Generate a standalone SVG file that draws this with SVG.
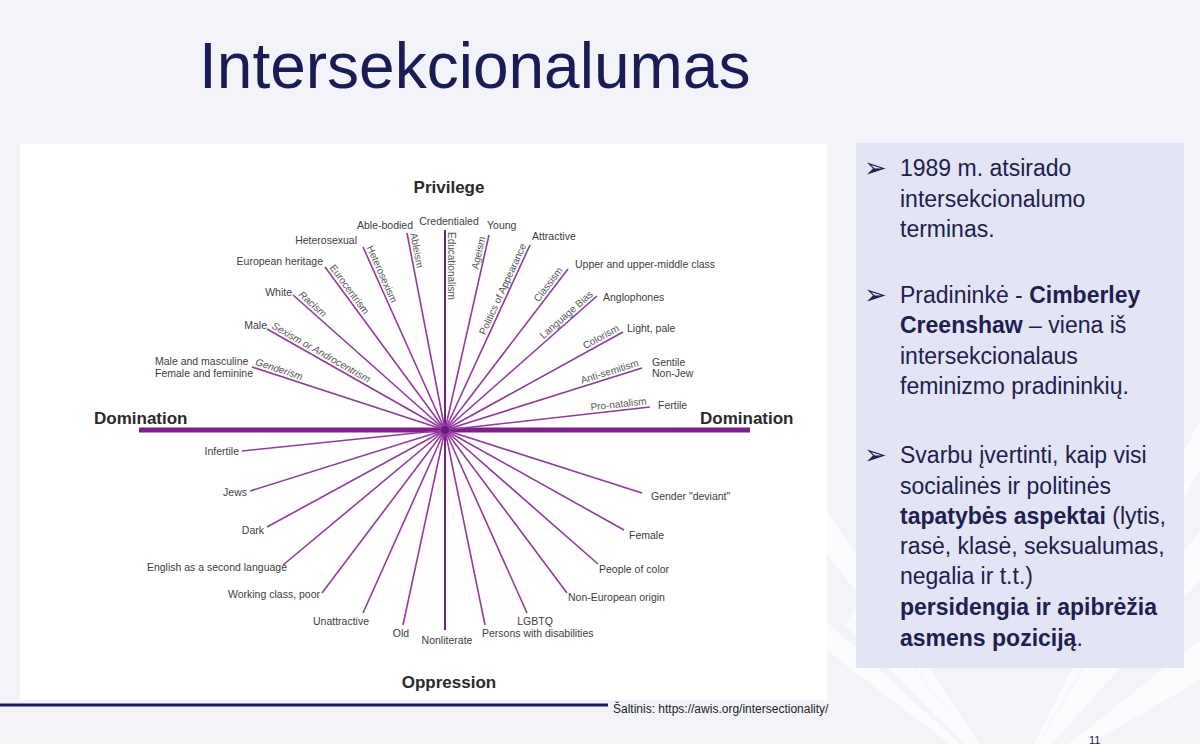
<svg xmlns="http://www.w3.org/2000/svg" width="1200" height="744" viewBox="0 0 1200 744">
  <defs>
    <style>
      .lbl { font-family: "Liberation Sans", Arial, sans-serif; font-size: 10.5px; fill: #3d3d3d; }
      .sp { font-family: "Liberation Sans", Arial, sans-serif; font-size: 10px; fill: #555; }
      .it { font-style: italic; }
      .hd { font-family: "Liberation Sans", Arial, sans-serif; font-size: 17px; font-weight: bold; fill: #2a2a2a; }
      .spoke { stroke: #93399f; stroke-width: 1.6; fill: none; }
      .pt { font-family: "Liberation Sans", Arial, sans-serif; font-size: 23px; fill: #1d2050; }
      .b { font-weight: bold; }
      .bul { font-family: "DejaVu Sans", sans-serif; font-size: 27px; fill: #1d2050; }
      .ray { fill: #ffffff; opacity: 0.6; }
    </style>
  </defs>

  <!-- background -->
  <rect x="0" y="0" width="1200" height="744" fill="#f3f4fa"/>
  <g id="rays">
    <polygon class="ray" points="1010,790 760,560 760,600"/>
    <polygon class="ray" points="1010,790 800,470 785,500"/>
    <polygon class="ray" points="1010,790 1200,420 1200,470"/>
    <polygon class="ray" points="1010,790 1200,530 1200,580"/>
    <polygon class="ray" points="1010,790 1200,640 1200,680"/>
    <polygon class="ray" points="1010,790 860,600 845,625"/>
    <polygon class="ray" points="1010,790 1150,560 1170,575"/>
  </g>

  <!-- title -->
  <text id="title" x="199" y="88" font-family="'Liberation Sans', Arial, sans-serif" font-size="64" fill="#1a1d55">Intersekcionalumas</text>

  <!-- image area -->
  <rect x="20" y="144" width="807" height="556" fill="#ffffff"/>

  <!-- connectors -->
  <g id="connectors">
    <line x1="139" y1="430" x2="750" y2="430" stroke="#7c1f88" stroke-width="5"/>
    <line x1="445" y1="230" x2="445" y2="630" stroke="#74207f" stroke-width="2"/>
    <!-- top-left -->
    <line class="spoke" x1="445" y1="430" x2="252" y2="367"/>
    <line class="spoke" x1="445" y1="430" x2="267" y2="329"/>
    <line class="spoke" x1="445" y1="430" x2="293" y2="295"/>
    <line class="spoke" x1="445" y1="430" x2="325" y2="267"/>
    <line class="spoke" x1="445" y1="430" x2="363" y2="247"/>
    <line class="spoke" x1="445" y1="430" x2="407" y2="233"/>
    <!-- top-right -->
    <line class="spoke" x1="445" y1="430" x2="489" y2="235"/>
    <line class="spoke" x1="445" y1="430" x2="530" y2="245"/>
    <line class="spoke" x1="445" y1="430" x2="568" y2="269"/>
    <line class="spoke" x1="445" y1="430" x2="597" y2="296"/>
    <line class="spoke" x1="445" y1="430" x2="623" y2="332"/>
    <line class="spoke" x1="445" y1="430" x2="642" y2="368"/>
    <line class="spoke" x1="445" y1="430" x2="650" y2="407"/>
    <!-- bottom-left -->
    <line class="spoke" x1="445" y1="430" x2="242" y2="451"/>
    <line class="spoke" x1="445" y1="430" x2="250" y2="491"/>
    <line class="spoke" x1="445" y1="430" x2="267" y2="527"/>
    <line class="spoke" x1="445" y1="430" x2="283" y2="565"/>
    <line class="spoke" x1="445" y1="430" x2="322" y2="593"/>
    <line class="spoke" x1="445" y1="430" x2="363" y2="613"/>
    <line class="spoke" x1="445" y1="430" x2="403" y2="625"/>
    <!-- bottom-right -->
    <line class="spoke" x1="445" y1="430" x2="485" y2="625"/>
    <line class="spoke" x1="445" y1="430" x2="527" y2="613"/>
    <line class="spoke" x1="445" y1="430" x2="567" y2="593"/>
    <line class="spoke" x1="445" y1="430" x2="598" y2="564"/>
    <line class="spoke" x1="445" y1="430" x2="624" y2="530"/>
    <line class="spoke" x1="445" y1="430" x2="642" y2="493"/>
    <circle cx="445" cy="430" r="4" fill="#6e1a7a"/>
  </g>

  <!-- axis headings -->
  <g id="axis-labels">
    <text class="hd" x="449" y="193" text-anchor="middle">Privilege</text>
    <text class="hd" x="94" y="424">Domination</text>
    <text class="hd" x="700" y="424">Domination</text>
    <text class="hd" x="449" y="688" text-anchor="middle">Oppression</text>
  </g>

  <!-- spoke names (top) -->
  <g id="spoke-names">
    <text class="sp it" transform="translate(252,367) rotate(18.1)" x="2" y="-3">Genderism</text>
    <text class="sp it" transform="translate(267,329) rotate(29.6)" x="3" y="-3">Sexism or Androcentrism</text>
    <text class="sp it" transform="translate(293,295) rotate(41.6)" x="4" y="-3">Racism</text>
    <text class="sp" transform="translate(325,267) rotate(53.6)" x="3" y="-3">Eurocentrism</text>
    <text class="sp" transform="translate(363,247) rotate(65.9)" x="2" y="-3">Heterosexism</text>
    <text class="sp" transform="translate(407,233) rotate(79.1)" x="1" y="-3">Ableism</text>
    <text class="sp" transform="translate(445,230) rotate(90)" x="2" y="-3">Educationalism</text>
    <text class="sp" transform="translate(489,235) rotate(-77.3)" x="-3" y="-3" text-anchor="end">Ageism</text>
    <text class="sp" transform="translate(530,245) rotate(-65.3)" x="-2" y="-3" text-anchor="end">Politics of Appearance</text>
    <text class="sp" transform="translate(568,269) rotate(-52.6)" x="-4" y="-3" text-anchor="end">Classism</text>
    <text class="sp" transform="translate(597,296) rotate(-41.4)" x="-2" y="-3" text-anchor="end">Language Bias</text>
    <text class="sp" transform="translate(623,332) rotate(-28.8)" x="-2" y="-3" text-anchor="end">Colorism</text>
    <text class="sp" transform="translate(642,368) rotate(-17.5)" x="-2" y="-3" text-anchor="end">Anti-semitism</text>
    <text class="sp" transform="translate(650,407) rotate(-6.4)" x="-3" y="-3" text-anchor="end">Pro-natalism</text>
  </g>

  <!-- privilege end labels -->
  <g id="privileged-groups">
    <g id="n-male-masc"><text class="lbl" x="155" y="365">Male and masculine</text><text class="lbl" x="155" y="376.5">Female and feminine</text></g>
    <g id="n-male"><text class="lbl" x="267" y="329" text-anchor="end">Male</text></g>
    <g id="n-white"><text class="lbl" x="292" y="296" text-anchor="end">White</text></g>
    <g id="n-european"><text class="lbl" x="323" y="264.5" text-anchor="end">European heritage</text></g>
    <g id="n-hetero"><text class="lbl" x="357" y="243.5" text-anchor="end">Heterosexual</text></g>
    <g id="n-able"><text class="lbl" x="413" y="229" text-anchor="end">Able-bodied</text></g>
    <g id="n-cred"><text class="lbl" x="449" y="225" text-anchor="middle">Credentialed</text></g>
    <g id="n-young"><text class="lbl" x="487" y="229">Young</text></g>
    <g id="n-attractive"><text class="lbl" x="532" y="239.5">Attractive</text></g>
    <g id="n-upper"><text class="lbl" x="575" y="268">Upper and upper-middle class</text></g>
    <g id="n-anglo"><text class="lbl" x="603" y="300.5">Anglophones</text></g>
    <g id="n-light"><text class="lbl" x="627" y="331.5">Light, pale</text></g>
    <g id="n-gentile"><text class="lbl" x="652" y="365.5">Gentile</text><text class="lbl" x="652" y="377">Non-Jew</text></g>
    <g id="n-fertile"><text class="lbl" x="658" y="408.5">Fertile</text></g>
  </g>

  <!-- oppressed end labels -->
  <g id="oppressed-groups">
    <g id="n-infertile"><text class="lbl" x="239" y="455" text-anchor="end">Infertile</text></g>
    <g id="n-jews"><text class="lbl" x="247" y="495.5" text-anchor="end">Jews</text></g>
    <g id="n-dark"><text class="lbl" x="264" y="533.5" text-anchor="end">Dark</text></g>
    <g id="n-esl"><text class="lbl" x="287" y="571" text-anchor="end">English as a second language</text></g>
    <g id="n-working"><text class="lbl" x="320" y="598" text-anchor="end">Working class, poor</text></g>
    <g id="n-unattractive"><text class="lbl" x="369" y="624.5" text-anchor="end">Unattractive</text></g>
    <g id="n-old"><text class="lbl" x="401" y="637" text-anchor="middle">Old</text></g>
    <g id="n-nonliterate"><text class="lbl" x="447" y="644" text-anchor="middle">Nonliterate</text></g>
    <g id="n-disab"><text class="lbl" x="482" y="637">Persons with disabilities</text></g>
    <g id="n-lgbtq"><text class="lbl" x="535" y="624.5" text-anchor="middle">LGBTQ</text></g>
    <g id="n-noneuro"><text class="lbl" x="568" y="600.5">Non-European origin</text></g>
    <g id="n-poc"><text class="lbl" x="599" y="572.5">People of color</text></g>
    <g id="n-female"><text class="lbl" x="629" y="538.5">Female</text></g>
    <g id="n-gender-dev"><text class="lbl" x="651" y="499.5">Gender "deviant"</text></g>
  </g>

  <!-- source line -->
  <line x1="0" y1="705" x2="608" y2="705" stroke="#1b1f5c" stroke-width="3"/>
  <text x="613" y="713" font-family="'Liberation Sans', Arial, sans-serif" font-size="12" fill="#222">Šaltinis: https://awis.org/intersectionality/</text>

  <!-- right panel -->
  <g id="info-panel">
    <rect x="856" y="143" width="328" height="525" fill="#e3e5f4"/>
    <text class="bul" x="864" y="177">➢</text>
    <text class="pt" x="900" y="176">1989 m. atsirado</text>
    <text class="pt" x="900" y="206.5">intersekcionalumo</text>
    <text class="pt" x="900" y="237">terminas.</text>

    <text class="bul" x="864" y="304">➢</text>
    <text class="pt" x="900" y="303">Pradininkė - <tspan class="b">Cimberley</tspan></text>
    <text class="pt" x="900" y="333"><tspan class="b">Creenshaw</tspan> – viena iš</text>
    <text class="pt" x="900" y="363.5">intersekcionalaus</text>
    <text class="pt" x="900" y="393.5">feminizmo pradininkių.</text>

    <text class="bul" x="864" y="464">➢</text>
    <text class="pt" x="900" y="463">Svarbu įvertinti, kaip visi</text>
    <text class="pt" x="900" y="494">socialinės ir politinės</text>
    <text class="pt" x="900" y="524"><tspan class="b">tapatybės aspektai</tspan> (lytis,</text>
    <text class="pt" x="900" y="554">rasė, klasė, seksualumas,</text>
    <text class="pt" x="900" y="584">negalia ir t.t.)</text>
    <text class="pt b" x="900" y="615">persidengia ir apibrėžia</text>
    <text class="pt" x="900" y="646"><tspan class="b">asmens poziciją</tspan>.</text>
  </g>

  <text x="1089" y="744" font-family="'Liberation Sans', Arial, sans-serif" font-size="11" fill="#1d2050">11</text>
</svg>
